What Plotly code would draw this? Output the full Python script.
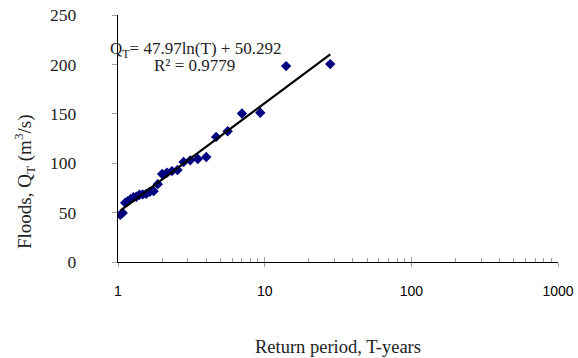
import numpy as np
import plotly.graph_objects as go

# Return periods (years) and observed floods (m^3/s)
return_period = [1.037, 1.077, 1.12, 1.167, 1.217, 1.273, 1.333, 1.4, 1.474, 1.556,
                 1.647, 1.75, 1.867, 2.0, 2.154, 2.333, 2.545, 2.8, 3.111, 3.5,
                 4.0, 4.667, 5.6, 7.0, 9.333, 14.0, 28.0]
floods = [47.7, 49.7, 60.0, 61.5, 63.5, 65.5, 66.0, 68.0, 68.4, 69.0,
          71.1, 71.7, 78.8, 89.0, 90.4, 92.0, 93.1, 101.2, 102.9, 104.2,
          106.3, 126.6, 132.3, 150.3, 151.0, 198.3, 200.3]

# Logarithmic trendline coefficients
trend_a = 47.97
trend_b = 50.292
r_squared = 0.9779

x_tick_vals = [1, 10, 100, 1000]
x_tick_text = ["1", "10", "100", "1000"]
y_tick_vals = [0, 50, 100, 150, 200, 250]

t_line = np.array([min(return_period), max(return_period)])
q_line = trend_a * np.log(t_line) + trend_b

SERIF = "Times New Roman, Liberation Serif, serif"
SANS = "Arial, Liberation Sans, sans-serif"
TICK_GRAY = "#a0a0a0"
TEXT = "#222"

fig = go.Figure()
fig.add_trace(go.Scatter(
    x=return_period, y=floods, mode="markers",
    marker=dict(symbol="diamond", size=8, color="#000080"),
    showlegend=False, hoverinfo="skip"))
fig.add_trace(go.Scatter(
    x=t_line, y=q_line, mode="lines",
    line=dict(color="black", width=2.2),
    showlegend=False, hoverinfo="skip"))
# invisible trace for overlay axis (inside half of crossing major ticks)
fig.add_trace(go.Scatter(x=[1], y=[0], xaxis="x2", mode="markers",
                         marker=dict(opacity=0), showlegend=False, hoverinfo="skip"))

fig.update_layout(
    width=578, height=358,
    margin=dict(l=118, r=20, t=15, b=96, pad=0, autoexpand=False),
    paper_bgcolor="white", plot_bgcolor="white",
    xaxis=dict(
        type="log", range=[0, 3], automargin=False,
        tickvals=x_tick_vals, ticktext=x_tick_text,
        ticks="outside", ticklen=4, tickcolor=TICK_GRAY, tickwidth=1,
        showline=True, linecolor="black", linewidth=1.3,
        showgrid=False, zeroline=False,
        tickfont=dict(family=SANS, size=14, color="black"),
        ticklabelstandoff=12,
        minor=dict(ticks="inside", ticklen=4, tickcolor=TICK_GRAY,
                   tickvals=[2, 3, 4, 5, 6, 7, 8, 9, 20, 30, 40, 50, 60, 70, 80, 90,
                             200, 300, 400, 500, 600, 700, 800, 900],
                   showgrid=False),
    ),
    xaxis2=dict(
        type="log", range=[0, 3], overlaying="x", anchor="y", side="bottom",
        automargin=False,
        tickvals=x_tick_vals, ticks="inside", ticklen=5, tickcolor=TICK_GRAY,
        showticklabels=False, showgrid=False, zeroline=False, showline=False,
    ),
    yaxis=dict(
        range=[0, 250], tickvals=y_tick_vals, automargin=False,
        ticks="outside", ticklen=5, tickcolor=TICK_GRAY, tickwidth=1,
        showline=True, linecolor="black", linewidth=1.3,
        showgrid=False, zeroline=False,
        tickfont=dict(family=SERIF, size=17.5, color=TEXT),
        ticklabelstandoff=32,
    ),
    annotations=[
        dict(text="Q<sub>T</sub>= 47.97ln(T) + 50.292",
             xref="paper", yref="paper", x=0.1766, y=0.86,
             xanchor="center", yanchor="middle", showarrow=False,
             font=dict(family=SERIF, size=17, color=TEXT)),
        dict(text="R² = 0.9779",
             xref="paper", yref="paper", x=0.1745, y=0.795,
             xanchor="center", yanchor="middle", showarrow=False,
             font=dict(family=SERIF, size=17, color=TEXT)),
        dict(text="Floods, Q<sub>T</sub> (m<sup>3</sup>/s)",
             xref="paper", yref="paper", x=-0.214, y=0.327,
             xanchor="center", yanchor="middle", textangle=-90, showarrow=False,
             font=dict(family=SERIF, size=19, color=TEXT)),
        dict(text="Return period, T-years",
             xref="paper", yref="paper", x=0.5, y=-0.345,
             xanchor="center", yanchor="middle", showarrow=False,
             font=dict(family=SERIF, size=18.5, color=TEXT)),
    ],
)

fig.write_html("out.html", config={"displayModeBar": False},
               post_script="document.body.style.margin='0px';document.body.style.overflow='hidden';")
